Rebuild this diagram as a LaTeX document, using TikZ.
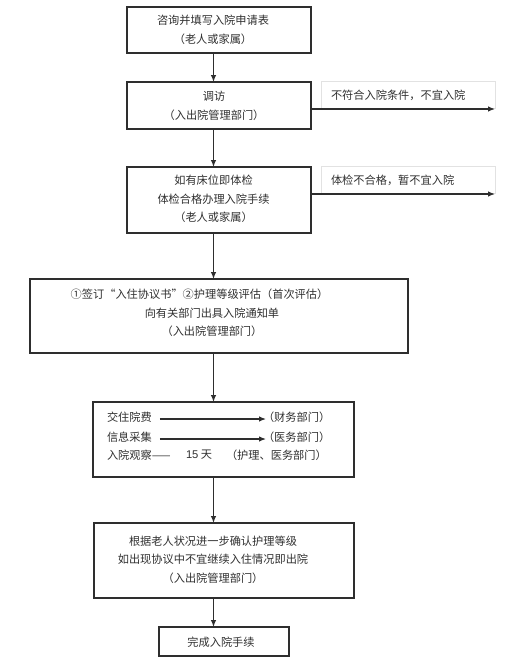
\documentclass[tikz,border=0pt]{standalone}
\usepackage{fontspec}
\setmainfont{Noto Sans CJK SC}
\newfontfamily\arialfont{Liberation Sans}
\usetikzlibrary{arrows.meta}
\definecolor{ink}{HTML}{2E2E2E}
\definecolor{txtc}{HTML}{303030}
\definecolor{faint}{HTML}{E2E2E2}
\begin{document}
\begin{tikzpicture}[x=1pt,y=-1pt,
  frame/.style={draw=ink,line width=1.2pt,inner sep=0pt,outer sep=0pt},
  sidebox/.style={draw=faint,line width=0.8pt,inner sep=0pt,outer sep=0pt,minimum width=174pt,minimum height=27pt},
  txt/.style={text=txtc,inner sep=0pt,outer sep=0pt,align=center,font=\fontsize{11.2}{18.6}\selectfont},
  ltxt/.style={txt,anchor=west},
  arr/.style={draw=ink,line width=1.2pt,-{Latex[length=7pt,width=5.5pt]}}]
\fill[white] (0,0) rectangle (511,665);
\useasboundingbox (0,0) rectangle (511,665);
\coordinate (spine) at (213.5,0);
% boxes
\node[frame,minimum width=184pt,minimum height=46pt] (b1) at (219,30) {};
\node[frame,minimum width=184pt,minimum height=47pt] (b2) at (219,105.5) {};
\node[frame,minimum width=184pt,minimum height=66pt] (b3) at (219,200) {};
\node[frame,minimum width=378pt,minimum height=74pt] (b4) at (219,316) {};
\node[frame,minimum width=261pt,minimum height=75pt] (b5) at (223.5,439.5) {};
\node[frame,minimum width=260pt,minimum height=75pt] (b6) at (224,560.5) {};
\node[frame,minimum width=130pt,minimum height=29pt] (b7) at (224,641.5) {};
% texts
\node[txt] (t1) at (213,30) {咨询并填写入院申请表\\（老人或家属）};
\node[txt] (t2) at (214,106) {调访\\（入出院管理部门）};
\node[txt] (t3) at (213.5,199) {如有床位即体检\\体检合格办理入院手续\\（老人或家属）};
\node[txt] (t4) at (212,313) {①签订“入住协议书”②护理等级评估（首次评估）\hspace*{25pt}\mbox{}\\向有关部门出具入院通知单\\（入出院管理部门）};
\node[txt] (t6) at (213,559.5) {根据老人状况进一步确认护理等级\\如出现协议中不宜继续入住情况即出院\\（入出院管理部门）};
\node[txt] (t7) at (221,642) {完成入院手续};
% box 5 contents
\node[ltxt] (t51) at (107,417) {交住院费};
\node[ltxt] (d51) at (263,417) {（财务部门）};
\node[ltxt] (t52) at (107,437) {信息采集};
\node[ltxt] (d52) at (263,437) {（医务部门）};
\node[ltxt] (t53) at (107,455) {入院观察——};
\node[ltxt] (n53) at (186,455) {{\arialfont 15} 天};
\node[ltxt] (d53) at (226,455) {（护理、医务部门）};
\draw[arr,shorten <=8pt,shorten >=-3pt] ([yshift=-2pt]t51.east) -- ([yshift=-2pt]d51.west);
\draw[arr,shorten <=8pt,shorten >=-3pt] ([yshift=-2pt]t52.east) -- ([yshift=-2pt]d52.west);
% side labels
\node[sidebox] (s1) at (408,94.5) {};
\node[ltxt] (st1) at (331,95) {不符合入院条件，不宜入院};
\node[sidebox] (s2) at (408,179.5) {};
\node[ltxt] (st2) at (331,180) {体检不合格，暂不宜入院};
\coordinate (e1) at (495,109);
\coordinate (e2) at (495,194);
\draw[arr] (b2.east |- e1) -- (e1);
\draw[arr] (b3.east |- e2) -- (e2);
% main flow
\draw[arr] (b1.south -| spine) -- (b2.north -| spine);
\draw[arr] (b2.south -| spine) -- (b3.north -| spine);
\draw[arr] (b3.south -| spine) -- (b4.north -| spine);
\draw[arr] (b4.south -| spine) -- (b5.north -| spine);
\draw[arr] (b5.south -| spine) -- (b6.north -| spine);
\draw[arr] (b6.south -| spine) -- (b7.north -| spine);
\end{tikzpicture}
\end{document}
